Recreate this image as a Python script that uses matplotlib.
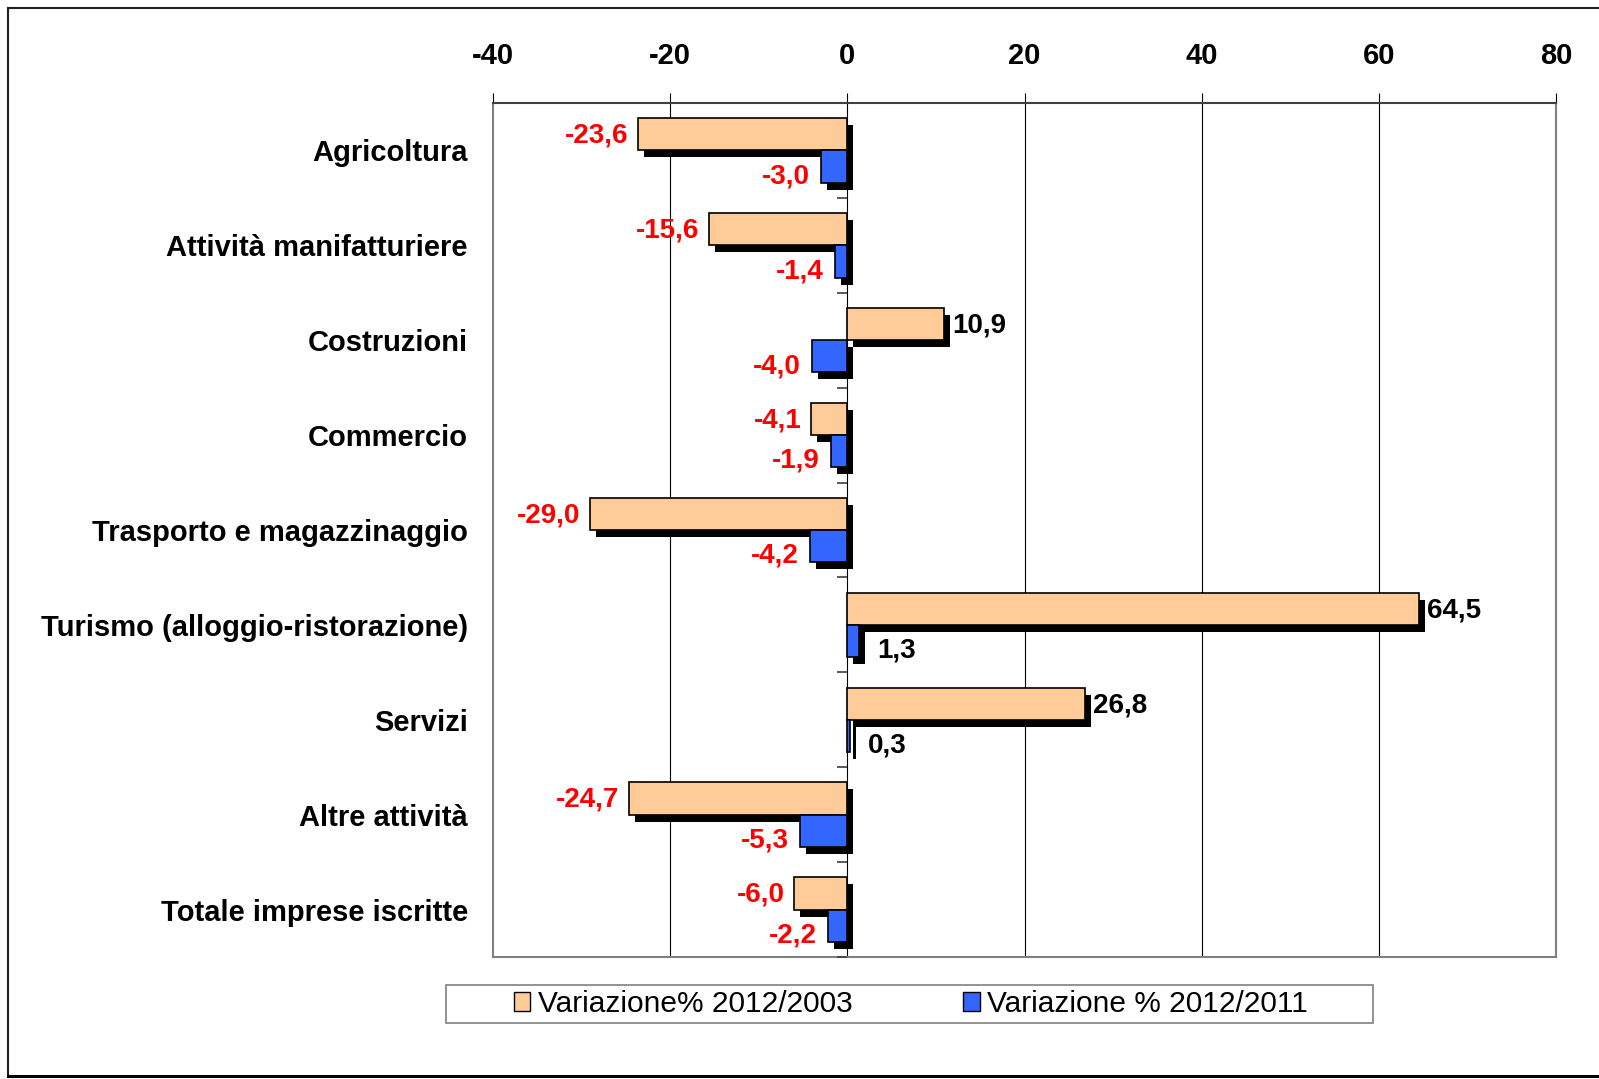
import matplotlib
matplotlib.use("Agg")
import matplotlib.pyplot as plt
import matplotlib.transforms as mtransforms
from matplotlib.lines import Line2D
from matplotlib.patches import Patch, Rectangle
import numpy as np

categories = ['Agricoltura', 'Attività manifatturiere', 'Costruzioni', 'Commercio',
              'Trasporto e magazzinaggio', 'Turismo (alloggio-ristorazione)', 'Servizi',
              'Altre attività', 'Totale imprese iscritte']
var_2003 = [-23.6, -15.6, 10.9, -4.1, -29.0, 64.5, 26.8, -24.7, -6.0]
var_2011 = [-3.0, -1.4, -4.0, -1.9, -4.2, 1.3, 0.3, -5.3, -2.2]
series_names = ['Variazione% 2012/2003', 'Variazione % 2012/2011']
x_ticks = [-40, -20, 0, 20, 40, 60, 80]

ORANGE = '#FFCC99'
BLUE = '#3366FF'
RED = '#FF0000'

plt.rcParams['font.family'] = ['Liberation Sans', 'DejaVu Sans']

W, H = 1599, 1079
fig = plt.figure(figsize=(W / 100, H / 100), dpi=100)
ax = fig.add_axes([493 / W, 1 - 957 / H, (1556 - 493) / W, (957 - 103) / H])

y = np.arange(len(categories))
h = 0.34

# shadows (shifted right/down in pixels)
shadow_tr = ax.transData + mtransforms.ScaledTranslation(6 / 100, -7 / 100, fig.dpi_scale_trans)
for vals, off in [(var_2003, -h / 2), (var_2011, h / 2)]:
    sh = ax.barh(y + off, vals, height=h, color='black', linewidth=0, zorder=2)
    for r in sh:
        r.set_transform(shadow_tr)

ax.barh(y - h / 2, var_2003, height=h, color=ORANGE, edgecolor='black', linewidth=1.2, zorder=3)
ax.barh(y + h / 2, var_2011, height=h, color=BLUE, edgecolor='black', linewidth=1.2, zorder=3)


def fmt(v):
    return f'{v:.1f}'.replace('.', ',')


lab_font = dict(fontsize=20, fontweight='bold')
for i, v in enumerate(var_2003):
    if v < 0:
        ax.annotate(fmt(v), (v, i - h / 2), xytext=(-7, -1), textcoords='offset points',
                    ha='right', va='center', color=RED, **lab_font)
    else:
        ax.annotate(fmt(v), (v, i - h / 2), xytext=(6, -1), textcoords='offset points',
                    ha='left', va='center', color='black', **lab_font)
for i, v in enumerate(var_2011):
    if v < 0:
        ax.annotate(fmt(v), (v, i + h / 2), xytext=(-8, -7), textcoords='offset points',
                    ha='right', va='center', color=RED, **lab_font)
    else:
        ax.annotate(fmt(v), (v, i + h / 2), xytext=(13, -7), textcoords='offset points',
                    ha='left', va='center', color='black', **lab_font)

ax.set_xlim(-40, 80)
ax.set_ylim(len(categories) - 0.5, -0.5)

for xv in x_ticks[1:-1]:
    ax.axvline(xv, color='black', linewidth=0.8, zorder=1)

# category tick marks on the zero line
bounds = np.arange(len(categories) + 1) - 0.5
ax.plot(np.zeros(len(bounds)), bounds, linestyle='none', marker=0, markersize=7,
        markeredgewidth=1.2, color='#404040', clip_on=False, zorder=4)

ax.xaxis.tick_top()
ax.set_xticks(x_ticks)
ax.set_xticklabels([str(t) for t in x_ticks])
ax.tick_params(axis='x', direction='out', length=7, width=0.8, pad=17, labelsize=21)
for lbl in ax.get_xticklabels():
    lbl.set_fontweight('bold')

ax.set_yticks(y)
ax.set_yticklabels(categories, fontsize=21, fontweight='bold')
ax.tick_params(axis='y', length=0, pad=18)

for s in ax.spines.values():
    s.set_color('#808080')
    s.set_linewidth(1.5)
ax.spines['top'].set_color('#404040')

# legend: frame drawn separately so it can be wider than its content
fig.add_artist(Rectangle((446 / W, 1 - 1023 / H), (1373 - 446) / W, 38 / H,
                         transform=fig.transFigure, facecolor='white',
                         edgecolor='#808080', linewidth=1.2))
handles = [Patch(facecolor=ORANGE, edgecolor='black', linewidth=1.0),
           Patch(facecolor=BLUE, edgecolor='black', linewidth=1.0)]
leg = fig.legend(handles, series_names, loc='center', bbox_to_anchor=(911 / W, 1 - 1004 / H),
                 ncol=2, frameon=False, prop={'size': 21.5},
                 handlelength=0.55, handleheight=0.65, handletextpad=0.25,
                 columnspacing=3.7, borderpad=0.2)

# outer frame (open on the right)
fx0, fy0, fy1 = 8 / W, 1 - 8 / H, 1 - 1076 / H
fig.add_artist(Line2D([fx0, fx0], [fy1, fy0], color='#202020', linewidth=1.5))
fig.add_artist(Line2D([fx0, 1.0], [fy0, fy0], color='#202020', linewidth=1.5))
fig.add_artist(Line2D([fx0, 1.0], [fy1, fy1], color='black', linewidth=2.2))

fig.savefig('out.png', dpi=100)
